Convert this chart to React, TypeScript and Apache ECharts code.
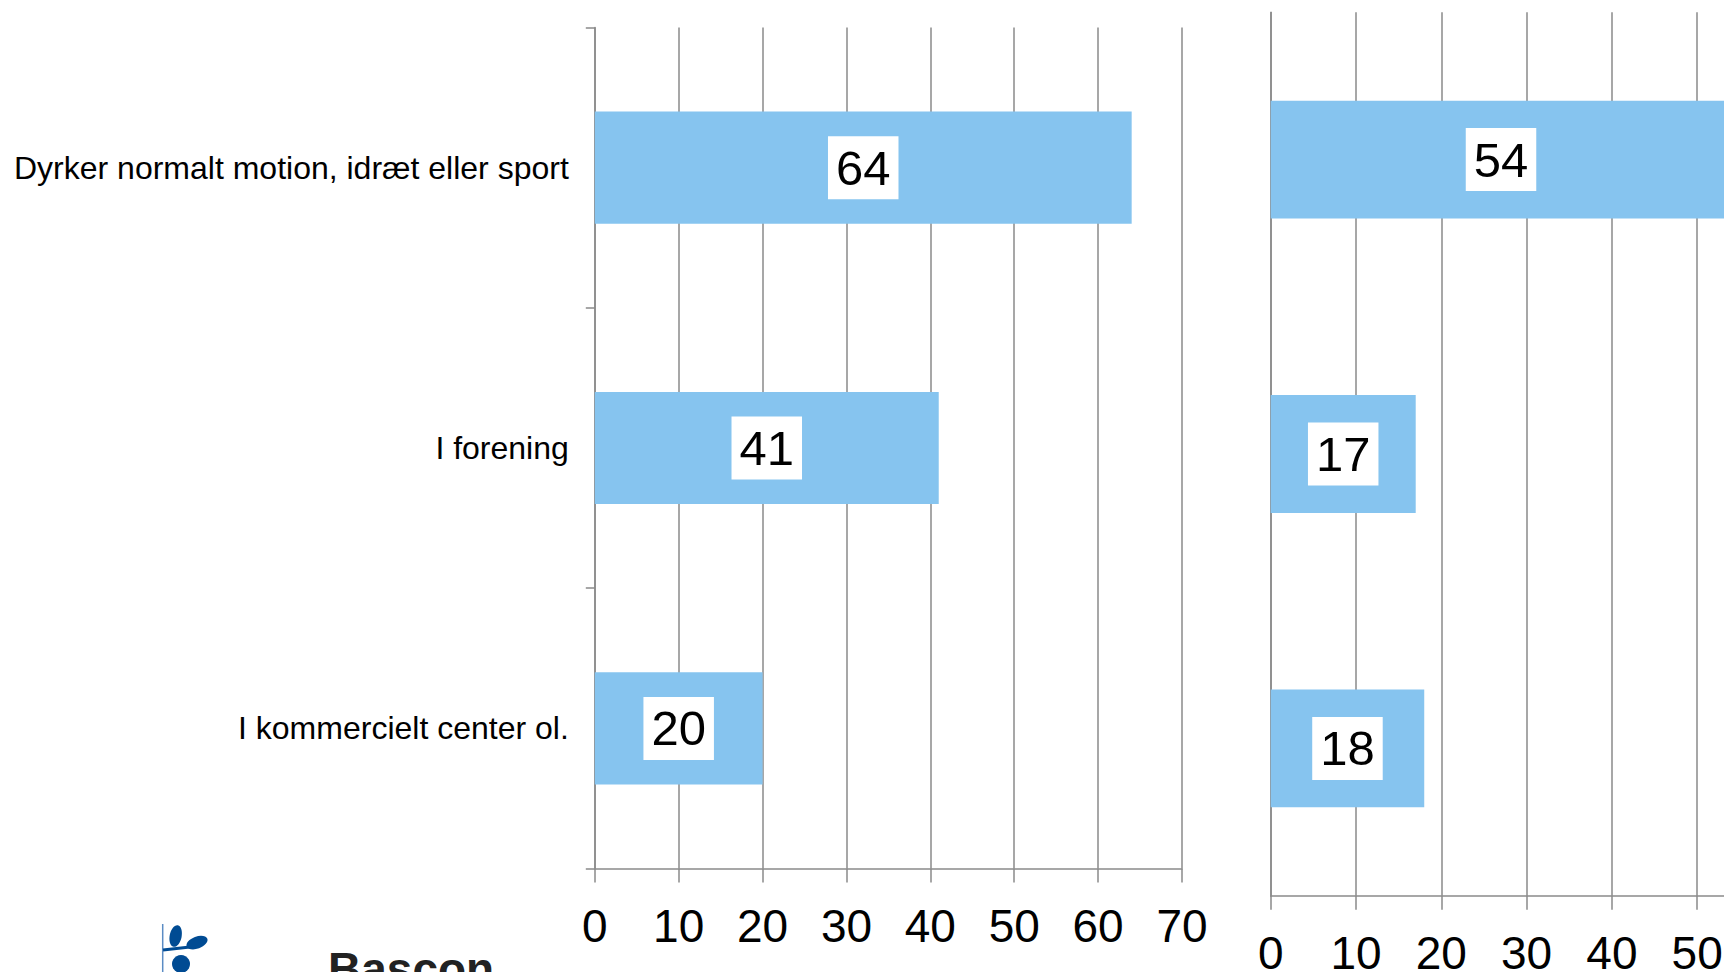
import React, { useEffect, useRef } from "react";
import * as echarts from "echarts";

const categories = [
  "Dyrker normalt motion, idræt eller sport",
  "I forening",
  "I kommercielt center ol.",
];
const leftValues = [64, 41, 20];
const rightValues = [54, 17, 18];
const leftAxisMax = 70;
const rightAxisMax = 60;
const axisInterval = 10;
const logoText = "Bascon";

const FONT = 'Arial, "Liberation Sans", Helvetica, sans-serif';
const GRAY = "#8a8a8a";
const BAR = "#86C4EF";

export default function App() {
  const ref = useRef<HTMLDivElement>(null);
  useEffect(() => {
    if (!ref.current) return;
    const chart = echarts.init(ref.current, null, { renderer: "svg" });
    const xAxisCommon = (gridIndex: number, max: number) => ({
      type: "value",
      gridIndex,
      min: 0,
      max,
      interval: axisInterval,
      axisLine: { show: true, lineStyle: { color: GRAY, width: 1.5 } },
      axisTick: { show: true, length: 14, lineStyle: { color: GRAY, width: 1.5 } },
      splitLine: { show: true, lineStyle: { color: GRAY, width: 1.5 } },
      axisLabel: {
        color: "#000",
        fontSize: 46,
        fontFamily: FONT,
        margin: 34,
      },
    });
    const labelCommon = {
      show: true,
      position: "inside",
      color: "#000",
      fontSize: 49,
      fontFamily: FONT,
      backgroundColor: "#fff",
      padding: [7, 8],
    };
    chart.setOption({
      animation: false,
      backgroundColor: "#fff",
      grid: [
        {
          left: 594.8,
          top: 27.5,
          width: 587.2,
          height: 841.1,
          containLabel: false,
          outerBoundsMode: "none",
        },
        {
          left: 1270.7,
          top: 12.3,
          width: 511.8,
          height: 883.4,
          containLabel: false,
          outerBoundsMode: "none",
        },
      ],
      xAxis: [xAxisCommon(0, leftAxisMax), xAxisCommon(1, rightAxisMax)],
      yAxis: [
        {
          type: "category",
          gridIndex: 0,
          data: categories,
          inverse: true,
          axisLine: { show: true, lineStyle: { color: GRAY, width: 1.5 } },
          axisTick: { show: true, length: 9, lineStyle: { color: GRAY, width: 1.5 } },
          axisLabel: {
            color: "#000",
            fontSize: 32,
            fontFamily: FONT,
            margin: 26,
          },
        },
        {
          type: "category",
          gridIndex: 1,
          data: categories,
          inverse: true,
          axisLine: { show: true, lineStyle: { color: GRAY, width: 1.5 } },
          axisTick: { show: false },
          axisLabel: { show: false },
        },
      ],
      series: [
        {
          type: "bar",
          xAxisIndex: 0,
          yAxisIndex: 0,
          data: leftValues,
          barCategoryGap: "60%",
          itemStyle: { color: BAR },
          label: labelCommon,
        },
        {
          type: "bar",
          xAxisIndex: 1,
          yAxisIndex: 1,
          data: rightValues,
          barCategoryGap: "60%",
          itemStyle: { color: BAR },
          label: labelCommon,
        },
      ],
      graphic: [
        {
          type: "group",
          children: [
            {
              type: "line",
              shape: { x1: 162.7, y1: 924, x2: 162.7, y2: 972 },
              style: { stroke: "#5b8cc4", lineWidth: 1.5 },
            },
            {
              type: "line",
              shape: { x1: 163, y1: 950, x2: 190, y2: 947 },
              style: { stroke: "#004b93", lineWidth: 3 },
            },
            {
              type: "ellipse",
              shape: { cx: 176, cy: 936, rx: 6, ry: 11 },
              rotation: -0.2,
              originX: 176,
              originY: 936,
              style: { fill: "#004b93" },
            },
            {
              type: "ellipse",
              shape: { cx: 197, cy: 943, rx: 11, ry: 6 },
              rotation: 0.35,
              originX: 197,
              originY: 943,
              style: { fill: "#004b93" },
            },
            {
              type: "circle",
              shape: { cx: 181, cy: 964, r: 9 },
              style: { fill: "#004b93" },
            },
            {
              type: "text",
              x: 328,
              y: 946,
              style: {
                text: logoText,
                fontSize: 46,
                fontWeight: "bold",
                fontFamily: FONT,
                fill: "#222",
                textVerticalAlign: "top",
              },
            },
          ],
        },
      ],
    });
    return () => chart.dispose();
  }, []);
  return (
    <div
      ref={ref}
      style={{ position: "fixed", left: 0, top: 0, width: 1724, height: 972, background: "#fff" }}
    />
  );
}
